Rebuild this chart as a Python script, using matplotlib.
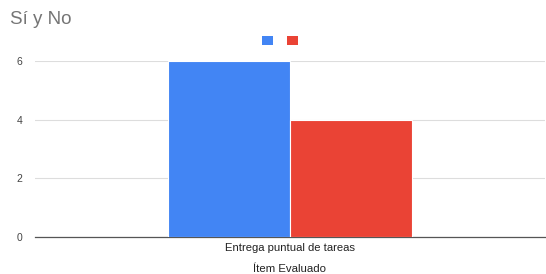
import matplotlib.pyplot as plt
import matplotlib.patches as patches

plt.rcParams['font.family'] = ['Liberation Sans', 'DejaVu Sans']

categories = ["Entrega puntual de tareas"]
series_names = ["Sí", "No"]
si_values = [6]
no_values = [4]
colors = ['#4285F4', '#EA4335']

fig = plt.figure(figsize=(5.46, 2.74), dpi=100)
ax = fig.add_axes([0.064, 0.135, 0.934, 0.642])

w = 0.24
xs = list(range(len(categories)))
ax.bar([x - w / 2 for x in xs], si_values, width=w, color=colors[0],
       edgecolor='white', linewidth=0.8, zorder=3)
ax.bar([x + w / 2 for x in xs], no_values, width=w, color=colors[1],
       edgecolor='white', linewidth=0.8, zorder=3)

ax.set_xlim(-0.5, 0.5)
ax.set_ylim(0, 6)
ax.set_yticks([0, 2, 4, 6])
ax.set_xticks(xs)
ax.set_xticklabels(categories, fontsize=8.1, color='#222222')
ax.tick_params(axis='y', labelsize=7.5, colors='#444444', length=0, pad=9)
ax.tick_params(axis='x', length=0, pad=4)
ax.grid(axis='y', color='#dddddd', linewidth=0.8, zorder=0)
for s in ['top', 'right', 'left']:
    ax.spines[s].set_visible(False)
ax.spines['bottom'].set_color('#555555')
ax.spines['bottom'].set_linewidth(0.9)

ax.set_xlabel("Ítem Evaluado", fontsize=8.2, color='#222222', labelpad=8)

fig.text(0.018, 0.93, "Sí y No", fontsize=13.5, color='#757575', ha='left', va='center')

handles = [patches.Patch(facecolor=c, edgecolor='none') for c in colors]
fig.legend(handles, ["", ""], loc='center', bbox_to_anchor=(0.515, 0.85), ncol=2,
           frameon=False, handlelength=1.0, handleheight=0.8, columnspacing=1.0,
           handletextpad=0.2, fontsize=8)

fig.savefig('out.png', dpi=100)
